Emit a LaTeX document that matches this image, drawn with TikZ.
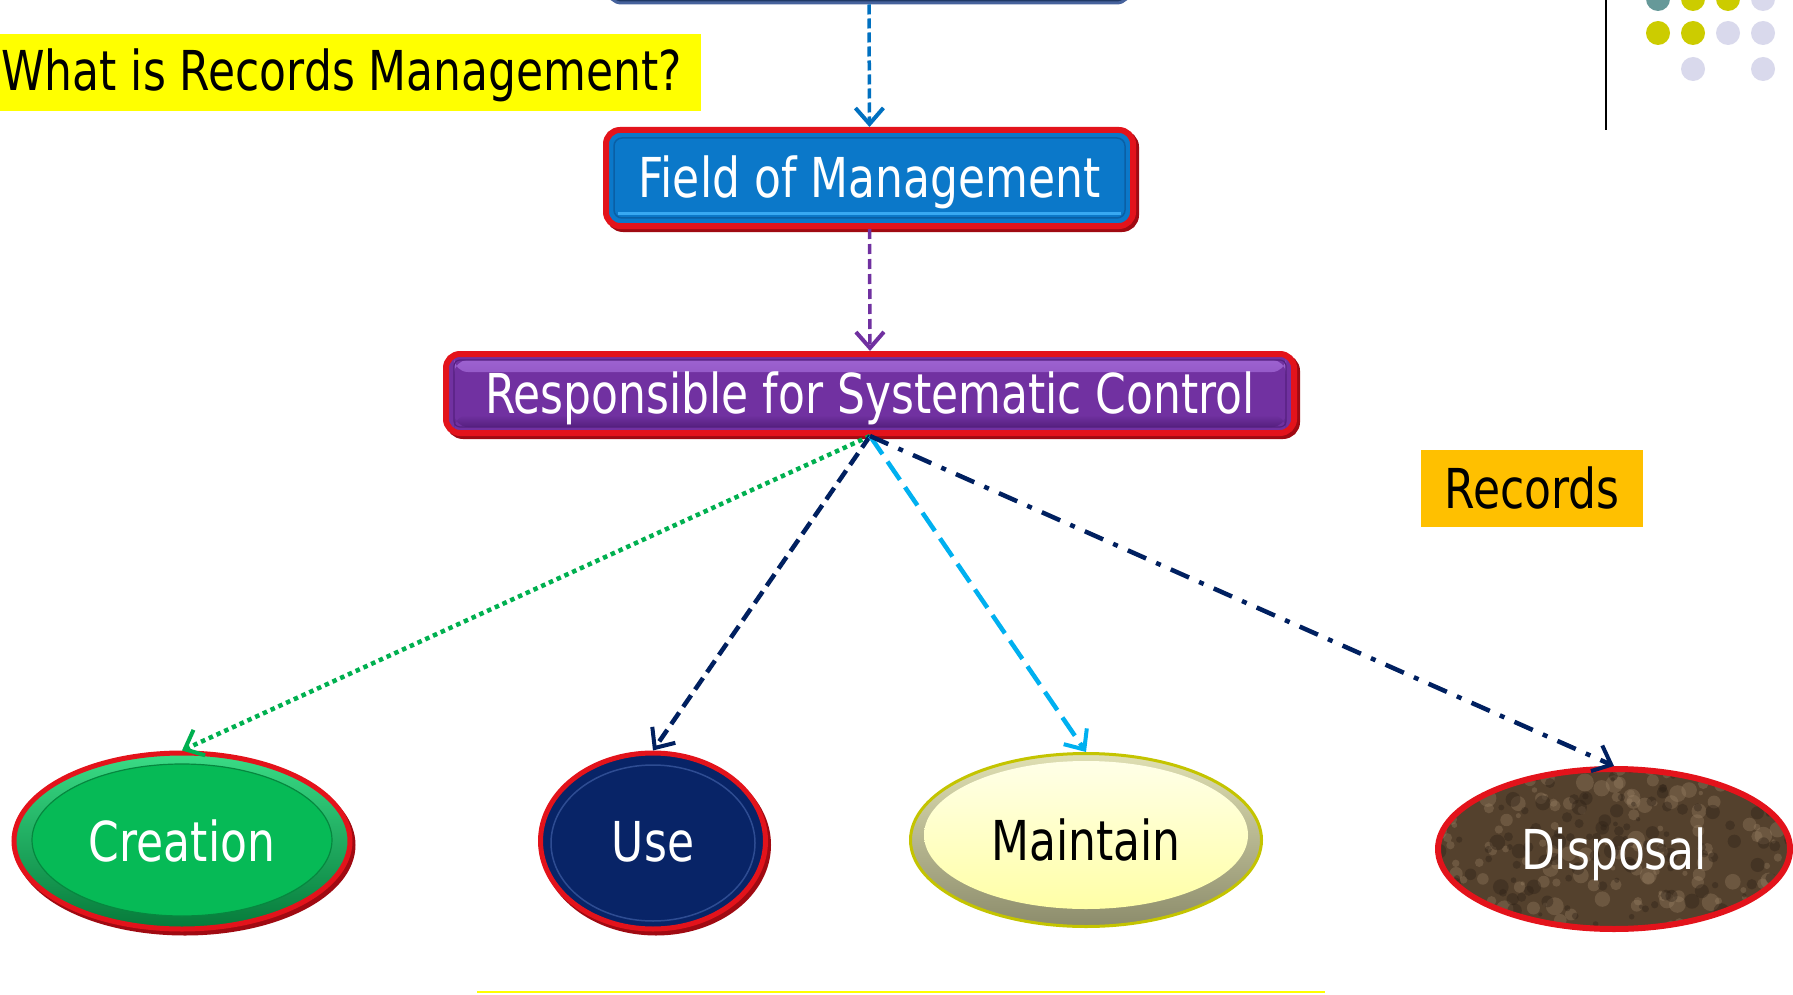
\documentclass[tikz,border=0pt]{standalone}
\usepackage{fontspec}
\newfontfamily\lblfont[FakeStretch=0.8]{DejaVu Sans}
\usetikzlibrary{arrows.meta,shapes.geometric,shadows,calc}
\definecolor{rimred}{HTML}{E3131B}
\definecolor{rimdark}{HTML}{A00A12}
\definecolor{fomblue}{HTML}{0B78C9}
\definecolor{fomdark}{HTML}{0A5FA5}
\definecolor{fomlight}{HTML}{38A9F2}
\definecolor{rscpurple}{HTML}{7131A1}
\definecolor{rsclight}{HTML}{A066D4}
\definecolor{rscdark}{HTML}{55207F}
\definecolor{cregreen}{HTML}{06BA56}
\definecolor{cregreenlt}{HTML}{3ADC86}
\definecolor{cregreendk}{HTML}{067A3A}
\definecolor{usenavy}{HTML}{082467}
\definecolor{usenavylt}{HTML}{2E4C92}
\definecolor{mntyellow}{HTML}{FFFFC4}
\definecolor{mntrim}{HTML}{C4C400}
\definecolor{dispbrown}{HTML}{54412D}
\definecolor{disphi}{HTML}{9A8266}
\definecolor{displo}{HTML}{2E2217}
\definecolor{topnavy}{HTML}{1F3864}
\definecolor{topedge}{HTML}{46629C}
\definecolor{arrblue}{HTML}{0070C0}
\definecolor{arrpurple}{HTML}{7030A0}
\definecolor{arrgreen}{HTML}{00B050}
\definecolor{arrnavy}{HTML}{002060}
\definecolor{arrcyan}{HTML}{00B0F0}
\definecolor{recgold}{HTML}{FFC000}
\definecolor{titleyellow}{HTML}{FFFF00}
\definecolor{dotteal}{HTML}{669999}
\definecolor{dotolive}{HTML}{CCCC00}
\definecolor{dotlav}{HTML}{D9D9EC}
\begin{document}
\begin{tikzpicture}[x=1pt,y=-1pt,
  lbl/.style={font=\lblfont\fontsize{55}{60}\selectfont, text height=40pt, text depth=0pt, inner sep=0pt},
  boxbase/.style={lbl, rectangle, rounded corners=14pt, line width=6pt, draw=rimred, text=white,
    copy shadow={shadow xshift=3pt, shadow yshift=-3pt, fill=rimdark, draw=rimdark}},
  ellbase/.style={lbl, ellipse, inner sep=0pt},
  arr/.style={-{Straight Barb[length=16pt,width=28pt,line width=4pt]}},
  dot/.style={circle, inner sep=0pt, minimum size=24pt}
]
\useasboundingbox (0,0) rectangle (1793,995);
\fill[white] (0,0) rectangle (1793,995);

% title
\node[fill=titleyellow, minimum width=701pt, minimum height=77pt, inner sep=0pt, anchor=north west] (titlebox) at (0,34) {};
\node[lbl, anchor=west, text=black] (title) at (1,71) {What is Records Management?};

% decorative dots and rule
\draw[black, line width=2pt] (1606,0) -- (1606,130);
\node[dot, fill=dotteal]  (d11) at (1658,-1) {};
\node[dot, fill=dotolive] (d12) at (1693,-1) {};
\node[dot, fill=dotolive] (d13) at (1728,-1) {};
\node[dot, fill=dotlav]   (d14) at (1763,-1) {};
\node[dot, fill=dotolive] (d21) at (1658,33) {};
\node[dot, fill=dotolive] (d22) at (1693,33) {};
\node[dot, fill=dotlav]   (d23) at (1728,33) {};
\node[dot, fill=dotlav]   (d24) at (1763,33) {};
\node[dot, fill=dotlav]   (d32) at (1693,69) {};
\node[dot, fill=dotlav]   (d34) at (1763,69) {};

% top (cut) box
\node[rectangle, rounded corners=14pt, fill=topnavy, draw=topedge, line width=3pt,
      minimum width=523pt, minimum height=50pt, inner sep=0pt] (top) at (869,-22) {};

% Field of Management
\node[boxbase, fill=fomblue, minimum width=527pt, minimum height=96pt,
  path picture={
    \draw[fomdark, line width=1.5pt, rounded corners=8pt]
      ([shift={(8,8)}]path picture bounding box.north west) rectangle
      ([shift={(-8,-8)}]path picture bounding box.south east);
    \draw[fomlight, line width=3pt]
      ([shift={(12,-12)}]path picture bounding box.south west) --
      ([shift={(-12,-12)}]path picture bounding box.south east);
  }] (fom) at (869.5,178) {Field of Management};

% Responsible for Systematic Control
\node[boxbase, fill=rscpurple, minimum width=848pt, minimum height=79pt,
  path picture={
    \shade[top color=rsclight, bottom color=rscpurple]
      ([shift={(8,6)}]path picture bounding box.north west) rectangle
      ([shift={(-8,18)}]path picture bounding box.north east);
    \shade[top color=rscpurple, bottom color=rscdark]
      ([shift={(8,-18)}]path picture bounding box.south west) rectangle
      ([shift={(-8,-6)}]path picture bounding box.south east);
    \draw[rscdark, line width=1.2pt, rounded corners=6pt]
      ([shift={(8,6)}]path picture bounding box.north west) rectangle
      ([shift={(-8,-6)}]path picture bounding box.south east);
  }] (rsc) at (870,393.5) {Responsible for Systematic Control};

% Records
\node[lbl, rectangle, fill=recgold, minimum width=222pt, minimum height=77pt, text=black] (rec) at (1532,488.5) {Records};

% Creation
\node[ellbase, fill=cregreen, draw=rimred, line width=5pt, text=white,
  minimum width=336pt, minimum height=176pt,
  copy shadow={shadow xshift=3pt, shadow yshift=-4pt, fill=rimdark, draw=rimdark},
  path picture={
    \shade[top color=cregreenlt, bottom color=cregreendk] (path picture bounding box.north west) rectangle (path picture bounding box.south east);
    \fill[cregreen] ([shift={(0,-1)}]path picture bounding box.center) ellipse [x radius=150pt, y radius=76pt];
    \draw[cregreendk!80!cregreen, line width=1.2pt] ([shift={(0,-1)}]path picture bounding box.center) ellipse [x radius=150pt, y radius=76pt];
  }] (cre) at (182,841) {Creation};

% Use
\node[ellbase, fill=usenavy, draw=rimred, line width=5pt, text=white,
  minimum width=225pt, minimum height=176pt,
  copy shadow={shadow xshift=3pt, shadow yshift=-4pt, fill=rimdark, draw=rimdark},
  path picture={
    \draw[usenavylt, line width=1.5pt] ([shift={(0,2)}]path picture bounding box.center) ellipse [x radius=102pt, y radius=78pt];
  }] (use) at (653,841) {Use};

% Maintain
\node[ellbase, fill=mntyellow, draw=mntrim, line width=3pt, text=black,
  minimum width=351pt, minimum height=173pt,
  path picture={
    \shade[top color=mntyellow!75!gray, bottom color=mntyellow!55!black] (path picture bounding box.north west) rectangle (path picture bounding box.south east);
    \shade[top color=white!60!mntyellow, bottom color=mntyellow!85!yellow] ([shift={(0,-5)}]path picture bounding box.center) ellipse [x radius=162pt, y radius=74pt];
  }] (mnt) at (1086,840) {Maintain};

% Disposal
\node[ellbase, fill=dispbrown, draw=rimred, line width=6pt, text=white,
  minimum width=352pt, minimum height=160pt,
  path picture={
    \pgfmathsetseed{11}
    \foreach \i in {1,...,160}{
      \pgfmathsetmacro{\dx}{rnd*360-180}
      \pgfmathsetmacro{\dy}{rnd*170-85}
      \pgfmathsetmacro{\rr}{2+rnd*7}
      \fill[disphi, opacity=0.35] ([shift={(\dx,\dy)}]path picture bounding box.center) circle [radius=\rr pt];
    }
    \foreach \i in {1,...,160}{
      \pgfmathsetmacro{\dx}{rnd*360-180}
      \pgfmathsetmacro{\dy}{rnd*170-85}
      \pgfmathsetmacro{\rr}{2+rnd*6}
      \fill[displo, opacity=0.4] ([shift={(\dx,\dy)}]path picture bounding box.center) circle [radius=\rr pt];
    }
  }] (dsp) at (1614,849) {Disposal};

% connectors
\draw[arr, arrblue, line width=3.5pt, dash pattern=on 10pt off 4pt] (top.south) -- (fom.north);
\draw[arr, arrpurple, line width=3.5pt, dash pattern=on 10pt off 5pt] (fom.south) -- (rsc.north);
\draw[arr, arrgreen, line width=4.5pt, dash pattern=on 4.5pt off 4pt] (rsc.south) -- (cre.north);
\draw[arr, arrnavy, line width=4.5pt, dash pattern=on 14pt off 7pt] (rsc.south) -- (use.north);
\draw[arr, arrcyan, line width=4.5pt, dash pattern=on 22pt off 9pt] (rsc.south) -- (mnt.north);
\draw[arr, arrnavy, line width=4.5pt, dash pattern=on 20pt off 11pt on 5pt off 11pt] (rsc.south) -- (dsp.north);

% bottom rule
\draw[titleyellow, line width=2.5pt] (477,992) -- (1325,992);
\end{tikzpicture}
\end{document}
